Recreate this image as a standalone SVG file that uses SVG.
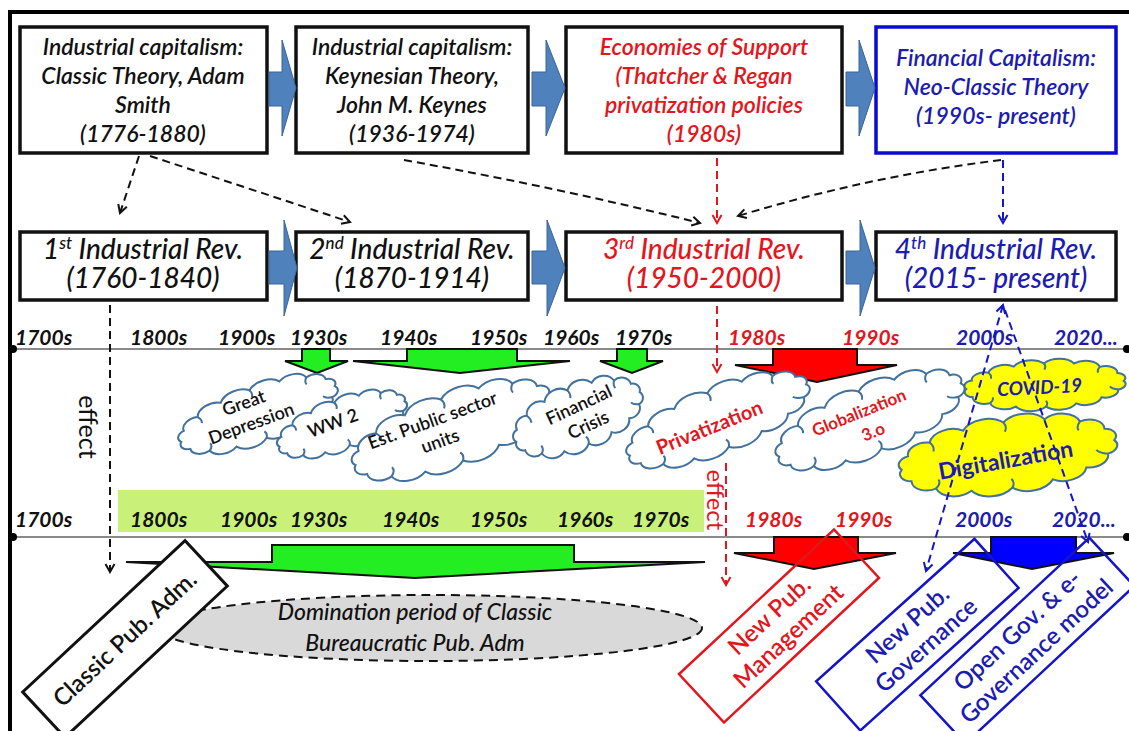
<svg xmlns="http://www.w3.org/2000/svg" width="1129" height="731" viewBox="0 0 1129 731">
  <style>
    text { font-family: Lato, "Open Sans", "Liberation Sans", sans-serif; }
    .bx { fill: #fff; stroke: #111; stroke-width: 3.5; }
    .bxb { fill: #fff; stroke: #0a0ad0; stroke-width: 3.5; }
    .chev { fill: #4f81bd; stroke: #3a6596; stroke-width: 1; }
    .t1 { font-size: 23px; font-style: italic; font-weight: 600; text-anchor: middle; }
    .t2 { font-size: 28px; font-style: italic; font-weight: 500; text-anchor: middle; }
    .el { font-size: 23px; font-style: italic; font-weight: 500; text-anchor: middle; }
    .yr { font-size: 21px; font-style: italic; font-weight: 700; }
    .cl { font-size: 18px; font-weight: 600; text-anchor: middle; }
    .bt { font-size: 24px; font-weight: 600; text-anchor: middle; }
    .k { fill: #111; }
    .r { fill: #e3161d; }
    .b { fill: #1c1cb0; }
    .tl { stroke: #8a8a8a; stroke-width: 2; }
    .dsh { fill: none; stroke-width: 2; stroke-dasharray: 8 5; }
    .dk { stroke: #111; }
    .dr { stroke: #e3161d; }
    .db { stroke: #1414c8; }
    .cloud { fill: #fff; stroke: #41719c; stroke-width: 2; }
    .cloudy { fill: #ffff00; stroke: #41719c; stroke-width: 2; }
    .curl { fill: none; stroke: #41719c; stroke-width: 2; }
    .arr { stroke: #111; stroke-width: 2; stroke-linejoin: miter; }
  </style>
  <defs>
    <marker id="mk" viewBox="0 0 12 12" refX="10" refY="6" markerWidth="12" markerHeight="12" markerUnits="userSpaceOnUse" orient="auto-start-reverse">
      <path d="M2,1.5 L10,6 L2,10.5" fill="none" stroke="#111" stroke-width="2"/>
    </marker>
    <marker id="mr" viewBox="0 0 12 12" refX="10" refY="6" markerWidth="12" markerHeight="12" markerUnits="userSpaceOnUse" orient="auto-start-reverse">
      <path d="M2,1.5 L10,6 L2,10.5" fill="none" stroke="#e3161d" stroke-width="2"/>
    </marker>
    <marker id="mb" viewBox="0 0 12 12" refX="10" refY="6" markerWidth="12" markerHeight="12" markerUnits="userSpaceOnUse" orient="auto-start-reverse">
      <path d="M2,1.5 L10,6 L2,10.5" fill="none" stroke="#1414c8" stroke-width="2"/>
    </marker>
    <!-- unit cloud outline, about 200 x 110 centred on the origin -->
    <path id="cloudShape" vector-effect="non-scaling-stroke" d="M-95,0 A11,11 0 0 1 -87.8,-17.2 A15,15 0 0 1 -67.2,-31.8 A19,19 0 0 1 -36.4,-41.6 A22,22 0 0 1 0,-45 A22,22 0 0 1 36.4,-41.6 A19,19 0 0 1 67.2,-31.8 A15,15 0 0 1 87.8,-17.2 A11,11 0 0 1 95,0 A11,11 0 0 1 87.8,17.2 A15,15 0 0 1 67.2,31.8 A19,19 0 0 1 36.4,41.6 A22,22 0 0 1 0,45 A22,22 0 0 1 -36.4,41.6 A19,19 0 0 1 -67.2,31.8 A15,15 0 0 1 -87.8,17.2 A11,11 0 0 1 -95,0 Z"/>
    <path id="cloudCurls" vector-effect="non-scaling-stroke" d="M-67.2,-31.8 Q-63,-25 -65,-19 M0,-45 Q3,-38 0,-32 M67.2,-31.8 Q63,-25 65,-20 M87.8,17.2 Q80,15 78,10 M0,45 Q3,38 0,33 M-67.2,31.8 Q-62,26 -64,20"/>
  </defs>

  <!-- frame -->
  <path d="M10,731 V12 H1129" fill="none" stroke="#000" stroke-width="4"/>

  <!-- economic theories -->
  <g id="theory-classic">
    <rect class="bx" x="20" y="27" width="247" height="126"/>
    <text class="t1 k" x="143" y="55">Industrial capitalism:</text>
    <text class="t1 k" x="143" y="84">Classic Theory, Adam</text>
    <text class="t1 k" x="143" y="113">Smith</text>
    <text class="t1 k" x="143" y="142">(1776-1880)</text>
  </g>
  <g id="theory-keynes">
    <rect class="bx" x="296" y="27" width="232" height="126"/>
    <text class="t1 k" x="412" y="55">Industrial capitalism:</text>
    <text class="t1 k" x="412" y="84">Keynesian Theory,</text>
    <text class="t1 k" x="412" y="113">John M. Keynes</text>
    <text class="t1 k" x="412" y="142">(1936-1974)</text>
  </g>
  <g id="theory-support">
    <rect class="bx" x="566" y="27" width="276" height="126"/>
    <text class="t1 r" x="704" y="55">Economies of Support</text>
    <text class="t1 r" x="704" y="84">(Thatcher &amp; Regan</text>
    <text class="t1 r" x="704" y="113">privatization policies</text>
    <text class="t1 r" x="704" y="142">(1980s)</text>
  </g>
  <g id="theory-financial">
    <rect class="bxb" x="876" y="27" width="240" height="126"/>
    <text class="t1 b" x="996" y="66">Financial Capitalism:</text>
    <text class="t1 b" x="996" y="95">Neo-Classic Theory</text>
    <text class="t1 b" x="996" y="124">(1990s- present)</text>
  </g>

  <!-- industrial revolutions -->
  <g id="rev-1">
    <rect class="bx" x="20" y="232" width="247" height="68"/>
    <text class="t2 k" x="143" y="259">1<tspan font-size="17" dy="-10">st</tspan><tspan dy="10"> Industrial  Rev.</tspan></text>
    <text class="t2 k" x="143" y="288">(1760-1840)</text>
  </g>
  <g id="rev-2">
    <rect class="bx" x="296" y="232" width="232" height="68"/>
    <text class="t2 k" x="412" y="259">2<tspan font-size="17" dy="-10">nd</tspan><tspan dy="10"> Industrial  Rev.</tspan></text>
    <text class="t2 k" x="412" y="288">(1870-1914)</text>
  </g>
  <g id="rev-3">
    <rect class="bx" x="566" y="232" width="276" height="68"/>
    <text class="t2 r" x="704" y="259">3<tspan font-size="17" dy="-10">rd</tspan><tspan dy="10"> Industrial  Rev.</tspan></text>
    <text class="t2 r" x="704" y="288">(1950-2000)</text>
  </g>
  <g id="rev-4">
    <rect class="bx" x="876" y="232" width="240" height="68"/>
    <text class="t2 b" x="996" y="259">4<tspan font-size="17" dy="-10">th</tspan><tspan dy="10"> Industrial  Rev.</tspan></text>
    <text class="t2 b" x="996" y="288">(2015- present)</text>
  </g>

  <!-- sequence chevrons -->
  <g id="chevrons">
    <path class="chev" d="M269,72 H282 V40 L296,88 L282,136 V106 H269 Z"/>
    <path class="chev" d="M532,72 H546 V40 L565,88 L546,136 V106 H532 Z"/>
    <path class="chev" d="M846,72 H859 V40 L875,88 L859,136 V106 H846 Z"/>
    <path class="chev" d="M269,251 H284 V220 L297,268 L284,316 V284 H269 Z"/>
    <path class="chev" d="M532,251 H547 V220 L565,268 L547,316 V284 H532 Z"/>
    <path class="chev" d="M846,251 H860 V220 L875,268 L860,316 V284 H846 Z"/>
  </g>

  <!-- timelines -->
  <g id="timeline-upper">
    <line class="tl" x1="13" y1="349" x2="1127" y2="349"/>
    <circle cx="13" cy="349" r="4" fill="#000"/>
    <circle cx="1127" cy="349" r="4" fill="#000"/>
    <text class="yr k" x="15" y="345">1700s</text>
    <text class="yr k" x="130" y="345">1800s</text>
    <text class="yr k" x="218" y="345">1900s</text>
    <text class="yr k" x="290" y="345">1930s</text>
    <text class="yr k" x="380" y="345">1940s</text>
    <text class="yr k" x="470" y="345">1950s</text>
    <text class="yr k" x="543" y="345">1960s</text>
    <text class="yr k" x="615" y="345">1970s</text>
    <text class="yr r" x="728" y="345">1980s</text>
    <text class="yr r" x="842" y="345">1990s</text>
    <text class="yr b" x="956" y="345">2000s</text>
    <text class="yr b" x="1054" y="345">2020...</text>
  </g>
  <g id="timeline-lower">
    <rect x="118" y="490" width="586" height="42" fill="#c9f17a"/>
    <line class="tl" x1="13" y1="537" x2="1127" y2="537"/>
    <circle cx="13" cy="537" r="4" fill="#000"/>
    <circle cx="1127" cy="537" r="4" fill="#000"/>
    <text class="yr k" x="15" y="527">1700s</text>
    <text class="yr k" x="130" y="527">1800s</text>
    <text class="yr k" x="220" y="527">1900s</text>
    <text class="yr k" x="290" y="527">1930s</text>
    <text class="yr k" x="382" y="527">1940s</text>
    <text class="yr k" x="470" y="527">1950s</text>
    <text class="yr k" x="557" y="527">1960s</text>
    <text class="yr k" x="632" y="527">1970s</text>
    <text class="yr r" x="745" y="527">1980s</text>
    <text class="yr r" x="835" y="527">1990s</text>
    <text class="yr b" x="955" y="527">2000s</text>
    <text class="yr b" x="1052" y="527">2020...</text>
  </g>

  <!-- period arrows -->
  <g id="period-arrows">
    <path class="arr" fill="#22ee22" d="M302,349 H330 V361 H348 L317,373 L285,361 H302 Z"/>
    <path class="arr" fill="#22ee22" d="M407,349 H517 V361 H570 L460,373 L353,361 H407 Z"/>
    <path class="arr" fill="#22ee22" d="M617,349 H647 V361 H663 L632,373 L600,361 H617 Z"/>
    <path class="arr" fill="#ff0000" d="M773,349 H857 V365 H897 L817,382 L735,365 H773 Z"/>
    <path class="arr" fill="#22ee22" d="M272,545 H574 V562 H705 L415,578 L126,562 H272 Z"/>
    <path class="arr" fill="#ff0000" d="M774,537 H858 V553 H896 L814,569 L734,553 H774 Z"/>
    <path class="arr" fill="#0000ff" d="M991,537 H1076 V553 H1114 L1032,569 L953,553 H991 Z"/>
  </g>

  <!-- events -->
  <g id="cloud-depression">
    <g transform="translate(258,414) rotate(-20) scale(0.86,0.56)">
      <use href="#cloudShape" class="cloud"/><use href="#cloudCurls" class="curl"/>
    </g>
    <text class="cl k" transform="translate(250,420) rotate(-20)"><tspan x="0" y="-12">Great</tspan><tspan x="0" y="10">Depression</tspan></text>
  </g>
  <g id="cloud-ww2">
    <g transform="translate(342,424) rotate(-20) scale(0.7,0.5)">
      <use href="#cloudShape" class="cloud"/><use href="#cloudCurls" class="curl"/>
    </g>
    <text class="cl k" transform="translate(335,429) rotate(-20)">WW 2</text>
  </g>
  <g id="cloud-public">
    <g transform="translate(452,430) rotate(-20) scale(1.08,0.72)">
      <use href="#cloudShape" class="cloud"/><use href="#cloudCurls" class="curl"/>
    </g>
    <text class="cl k" transform="translate(436,430) rotate(-20)"><tspan x="0" y="-4">Est. Public sector</tspan><tspan x="0" y="18">units</tspan></text>
  </g>
  <g id="cloud-crisis">
    <g transform="translate(578,417) rotate(-22) scale(0.7,0.64)">
      <use href="#cloudShape" class="cloud"/><use href="#cloudCurls" class="curl"/>
    </g>
    <text class="cl k" transform="translate(584,416) rotate(-25)"><tspan x="0" y="-6">Financial</tspan><tspan x="0" y="16">Crisis</tspan></text>
  </g>
  <g id="cloud-privatization">
    <g transform="translate(718,420) rotate(-22) scale(1.0,0.64)">
      <use href="#cloudShape" class="cloud"/><use href="#cloudCurls" class="curl"/>
    </g>
    <text class="r" transform="translate(712,434) rotate(-22)" font-size="20" font-weight="700" text-anchor="middle">Privatization</text>
  </g>
  <g id="cloud-globalization">
    <g transform="translate(870,420) rotate(-22) scale(1.03,0.68)">
      <use href="#cloudShape" class="cloud"/><use href="#cloudCurls" class="curl"/>
    </g>
    <text class="r" transform="translate(862,420) rotate(-22)" font-size="17" font-weight="700" text-anchor="middle"><tspan x="0" y="-2">Globalization</tspan><tspan x="6" y="21">3.o</tspan></text>
  </g>
  <g id="cloud-covid">
    <g transform="translate(1045,385) rotate(-3) scale(0.83,0.48)">
      <use href="#cloudShape" class="cloudy"/><use href="#cloudCurls" class="curl"/>
    </g>
    <text class="b" transform="translate(1040,394) rotate(-3)" font-size="19" font-style="italic" font-weight="700" text-anchor="middle">COVID-19</text>
  </g>
  <g id="cloud-digitalization">
    <g transform="translate(1008,455) rotate(-8) scale(1.13,0.73)">
      <use href="#cloudShape" class="cloudy"/><use href="#cloudCurls" class="curl"/>
    </g>
    <text class="b" transform="translate(1007,468) rotate(-10)" font-size="23" font-weight="700" text-anchor="middle">Digitalization</text>
  </g>

  <!-- administration models -->
  <g id="domination-period">
    <ellipse cx="430" cy="628" rx="272" ry="33" fill="#d9d9d9" stroke="#111" stroke-width="2" stroke-dasharray="9 6"/>
    <text class="el k" x="415" y="620">Domination period of Classic</text>
    <text class="el k" x="415" y="651">Bureaucratic Pub. Adm</text>
  </g>
  <g id="classic-pub-adm" transform="translate(125,639) rotate(-43)">
    <rect x="-111" y="-31" width="222" height="62" fill="#fff" stroke="#111" stroke-width="3"/>
    <text class="bt k" x="0" y="8">Classic Pub. Adm.</text>
  </g>
  <g id="new-pub-management" transform="translate(779,626) rotate(-43)">
    <rect x="-106" y="-33" width="212" height="66" fill="none" stroke="#e3161d" stroke-width="2.5"/>
    <text class="bt r"><tspan x="0" y="-6">New Pub.</tspan><tspan x="0" y="22">Management</tspan></text>
  </g>
  <g id="new-pub-governance" transform="translate(917,635) rotate(-42)">
    <rect x="-106" y="-33" width="213" height="66" fill="none" stroke="#1414c8" stroke-width="2.5"/>
    <text class="bt b"><tspan x="0" y="-6">New Pub.</tspan><tspan x="0" y="22">Governance</tspan></text>
  </g>
  <g id="open-gov" transform="translate(1027,641) rotate(-43)">
    <rect x="-115" y="-33" width="231" height="66" fill="none" stroke="#1414c8" stroke-width="2.5"/>
    <text class="bt b"><tspan x="0" y="-6">Open Gov. &amp; e-</tspan><tspan x="0" y="22">Governance model</tspan></text>
  </g>

  <!-- influence connectors -->
  <g id="connectors">
    <path class="dsh dk" d="M139,156 L120,213" marker-end="url(#mk)"/>
    <path class="dsh dk" d="M150,156 L350,222" marker-end="url(#mk)"/>
    <path class="dsh dk" d="M404,160 Q560,188 700,223" marker-end="url(#mk)"/>
    <path class="dsh dr" d="M717,158 L717,223" marker-end="url(#mr)"/>
    <path class="dsh dk" d="M1001,160 Q870,176 738,216" marker-end="url(#mk)"/>
    <path class="dsh db" d="M1003,160 L1003,223" marker-end="url(#mb)"/>
    <path class="dsh dk" d="M110,305 L110,572" marker-end="url(#mk)"/>
    <path class="dsh dr" d="M717,306 L717,372" marker-end="url(#mr)"/>
    <path class="dsh dr" d="M726,463 L726,585" marker-end="url(#mr)"/>
    <path class="dsh db" d="M1003,305 L926,571" marker-start="url(#mb)" marker-end="url(#mb)"/>
    <path class="dsh db" d="M1005,310 L1088,542" marker-end="url(#mb)"/>
    <text class="k" transform="translate(79,427) rotate(90)" font-size="25" text-anchor="middle">effect</text>
    <text class="r" transform="translate(707,500) rotate(90)" font-size="24" text-anchor="middle">effect</text>
  </g>
</svg>
